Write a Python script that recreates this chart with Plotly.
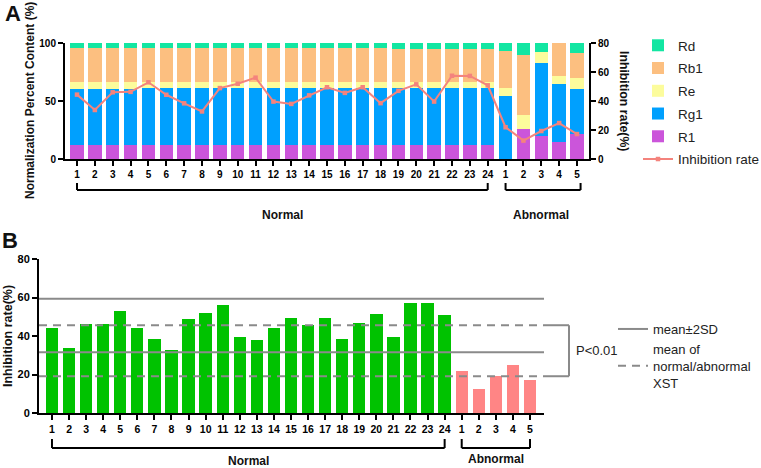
import plotly.graph_objects as go

W, H = 761, 468
FONT = "Arial, Liberation Sans, sans-serif"

# ---------------- data ----------------
categories = ["1", "2", "3", "4", "5", "6", "7", "8", "9", "10", "11", "12",
              "13", "14", "15", "16", "17", "18", "19", "20", "21", "22", "23", "24",
              "1", "2", "3", "4", "5"]
groups = ["Normal"] * 24 + ["Abnormal"] * 5

r1 = [12.0, 12.0, 12.0, 12.0, 12.1, 12.1, 12.1, 12.1, 12.2, 12.3, 12.3, 12.3,
      12.3, 12.3, 12.3, 12.2, 12.2, 12.2, 12.2, 12.2, 12.2, 12.2, 12.2, 12.3,
      0.0, 25.6, 19.8, 14.9, 21.3]
rg1 = [48.3, 48.3, 48.3, 48.4, 48.9, 48.9, 48.9, 48.9, 48.8, 48.7, 48.7, 48.7,
       48.7, 48.7, 48.7, 48.8, 48.8, 48.8, 48.8, 48.8, 48.8, 48.8, 48.8, 48.7,
       54.3, 0.0, 63.2, 49.5, 38.8]
re = [6.3, 6.3, 6.3, 6.2, 5.6, 5.6, 5.6, 5.6, 5.6, 5.6, 5.6, 5.6,
      5.6, 5.6, 5.6, 5.6, 5.6, 5.6, 5.6, 5.6, 5.6, 5.6, 5.6, 5.6,
      7.2, 12.3, 9.5, 7.2, 10.0]
rb1 = [29.1, 29.1, 29.1, 29.1, 29.1, 29.1, 29.1, 29.1, 29.1, 29.1, 29.1, 29.1,
       29.1, 29.1, 29.1, 29.1, 29.1, 29.1, 28.5, 28.5, 28.5, 28.5, 28.5, 28.5,
       31.6, 51.8, 0.0, 28.4, 21.5]
rd = [4.3, 4.3, 4.3, 4.3, 4.3, 4.3, 4.3, 4.3, 4.3, 4.3, 4.3, 4.3,
      4.3, 4.3, 4.3, 4.3, 4.3, 4.3, 4.9, 4.9, 4.9, 4.9, 4.9, 4.9,
      6.9, 10.3, 7.5, 0.0, 8.4]
inhibition = [44.4, 33.8, 46.0, 46.3, 52.9, 44.3, 38.4, 32.8, 48.9, 51.9, 56.1, 39.6,
              38.0, 43.9, 49.5, 45.6, 49.5, 38.5, 47.0, 51.5, 39.6, 57.4, 57.3, 50.8,
              21.9, 12.7, 19.3, 24.8, 17.2]

mean_2sd_lines = [59.3, 31.6]          # mean ± 2SD of normal XST
group_means = [45.6, 19.1]             # mean of normal / abnormal XST
left_ticks_a = [0, 50, 100]
right_ticks_a = [0, 20, 40, 60, 80]
ticks_b = [0, 20, 40, 60, 80]

# ---------------- styles ----------------
comp_colors = {"R1": "#CB55DA", "Rg1": "#00A0FE", "Re": "#FCFC9C",
               "Rb1": "#FCBF80", "Rd": "#12E6A2"}
line_color = "#F4837D"
grp_colors = {"Normal": "#00C200", "Abnormal": "#FF8585"}
gray = "#8A8A8A"


def px_x(p):
    return p / W


def px_y(p):
    return 1 - p / H


x_idx = list(range(len(categories)))
n_norm = groups.count("Normal")

fig = go.Figure()
components = [("R1", r1, 5), ("Rg1", rg1, 4), ("Re", re, 3), ("Rb1", rb1, 2), ("Rd", rd, 1)]
for name, vals, rank in components:
    fig.add_trace(go.Bar(x=x_idx, y=vals, name=name, width=0.75,
                         marker=dict(color=comp_colors[name], line=dict(width=0)),
                         xaxis="x", yaxis="y", legend="legend", legendrank=rank,
                         legendgroup=name))
fig.add_trace(go.Scatter(x=x_idx, y=inhibition, name="Inhibition rate", mode="lines+markers",
                         line=dict(color=line_color, width=2),
                         marker=dict(symbol="square", size=4.5, color=line_color),
                         xaxis="x", yaxis="y3", legend="legend", legendrank=6,
                         legendgroup="inh"))
fig.add_trace(go.Bar(x=x_idx, y=inhibition, width=0.72, showlegend=False,
                     marker=dict(color=[grp_colors[g] for g in groups], line=dict(width=0)),
                     xaxis="x2", yaxis="y2"))

axis_common = dict(showline=True, linewidth=2, linecolor="black", ticks="outside",
                   ticklen=5, tickwidth=1.6, tickcolor="black", showgrid=False,
                   zeroline=False, fixedrange=True, automargin=False)
tick_font = dict(family=FONT, size=10, color="black", weight="bold")

fig.update_layout(
    width=W, height=H, autosize=False,
    margin=dict(l=0, r=0, t=0, b=0, pad=0, autoexpand=False),
    paper_bgcolor="white", plot_bgcolor="white",
    barmode="stack",
    font=dict(family=FONT, color="#111"),
    xaxis=dict(domain=[px_x(65), px_x(589)], anchor="y", range=[-0.672, 28.672],
               tickmode="array", tickvals=x_idx, ticktext=categories,
               tickfont=tick_font, **axis_common),
    yaxis=dict(domain=[px_y(159), px_y(43)], anchor="x", range=[0, 100],
               tickmode="array", tickvals=left_ticks_a, tickfont=tick_font, **axis_common),
    yaxis3=dict(overlaying="y", side="right", anchor="x", range=[0, 80],
                tickmode="array", tickvals=right_ticks_a, tickfont=tick_font, **axis_common),
    xaxis2=dict(domain=[px_x(39), px_x(544)], anchor="y2", range=[-0.76, 28.82],
                tickmode="array", tickvals=x_idx, ticktext=categories,
                tickfont=dict(tick_font, size=10.5), **axis_common),
    yaxis2=dict(domain=[px_y(413), px_y(259)], anchor="x2", range=[0, 80],
                tickmode="array", tickvals=ticks_b, tickfont=dict(tick_font, size=11),
                **axis_common),
    legend=dict(x=px_x(638), y=px_y(30), xanchor="left", yanchor="top",
                font=dict(family=FONT, size=13.5, color="#222"),
                bgcolor="rgba(0,0,0,0)", traceorder="grouped", tracegroupgap=2.2,
                itemwidth=30),
    legend2=dict(x=px_x(613), y=px_y(314), xanchor="left", yanchor="top",
                 font=dict(family=FONT, size=13, color="#222"),
                 bgcolor="rgba(0,0,0,0)", traceorder="normal", itemwidth=30),
    showlegend=True,
)

shapes = []
# reference lines in panel B
for i, v in enumerate(mean_2sd_lines):
    shapes.append(dict(type="line", xref="x2 domain", yref="y2", x0=0, x1=1, y0=v, y1=v,
                       line=dict(color=gray, width=2), layer="above",
                       showlegend=(i == 0), name="mean±2SD", legend="legend2", legendrank=1))
for i, v in enumerate(group_means):
    shapes.append(dict(type="line", xref="x2 domain", yref="y2", x0=0, x1=1, y0=v, y1=v,
                       line=dict(color=gray, width=2, dash="8px,6px"), layer="above",
                       showlegend=(i == 0), name="mean of<br>normal/abnormal<br>XST",
                       legend="legend2", legendrank=2))
# P<0.01 bracket
bx = (569 - 39) / (544 - 39)
for v in group_means:
    shapes.append(dict(type="line", xref="x2 domain", yref="y2", x0=1, x1=bx, y0=v, y1=v,
                       line=dict(color=gray, width=2)))
shapes.append(dict(type="line", xref="x2 domain", yref="y2", x0=bx, x1=bx,
                   y0=group_means[1], y1=group_means[0], line=dict(color=gray, width=2)))


# group brackets under x axes
def bracket(xref, x0, x1, ybar, ytick):
    out = []
    out.append(dict(type="line", xref=xref, yref="paper", x0=x0, x1=x1, y0=ybar, y1=ybar,
                    line=dict(color="black", width=2)))
    for xx in (x0, x1):
        out.append(dict(type="line", xref=xref, yref="paper", x0=xx, x1=xx, y0=ybar, y1=ytick,
                        line=dict(color="black", width=2)))
    return out


last = len(categories) - 1
shapes += bracket("x", 0, n_norm - 1, px_y(190), px_y(183))
shapes += bracket("x", n_norm, last + 0.2, px_y(190), px_y(183))
shapes += bracket("x2", 0, n_norm - 1, px_y(448), px_y(439))
shapes += bracket("x2", n_norm, last, px_y(448), px_y(439))
fig.update_layout(shapes=shapes)

bold = dict(family=FONT, color="#111", weight="bold")
C = dict(xanchor="center", yanchor="middle", showarrow=False)
ann = [
    dict(text="A", x=px_x(13), y=px_y(13), xref="paper", yref="paper", font=dict(bold, size=22), **C),
    dict(text="B", x=px_x(10), y=px_y(241), xref="paper", yref="paper", font=dict(bold, size=22), **C),
    dict(text="Normalization Percent Content (%)", x=px_x(30), y=px_y(101), xref="paper",
         yref="paper", textangle=-90, font=dict(bold, size=12), **C),
    dict(text="Inhibition rate(%)", x=px_x(624), y=px_y(101), xref="paper", yref="paper",
         textangle=90, font=dict(bold, size=12.3), **C),
    dict(text="Inhibition rate(%)", x=px_x(8), y=px_y(336), xref="paper", yref="paper",
         textangle=-90, font=dict(bold, size=12.5), **C),
    dict(text="Normal", x=(n_norm - 1) / 2, y=px_y(215), xref="x", yref="paper",
         font=dict(bold, size=12), **C),
    dict(text="Abnormal", x=(n_norm + last) / 2, y=px_y(215), xref="x", yref="paper",
         font=dict(bold, size=12), **C),
    dict(text="Normal", x=(n_norm - 1) / 2, y=px_y(461), xref="x2", yref="paper",
         font=dict(bold, size=12), **C),
    dict(text="Abnormal", x=(n_norm + last) / 2, y=px_y(459), xref="x2", yref="paper",
         font=dict(bold, size=12), **C),
    dict(text="P&lt;0.01", x=px_x(597), y=px_y(350), xref="paper", yref="paper",
         font=dict(family=FONT, size=13, color="#222"), **C),
]
fig.update_layout(annotations=ann)

fig.write_html("out.html", config={"displayModeBar": False},
               post_script="document.body.style.margin='0px';")
